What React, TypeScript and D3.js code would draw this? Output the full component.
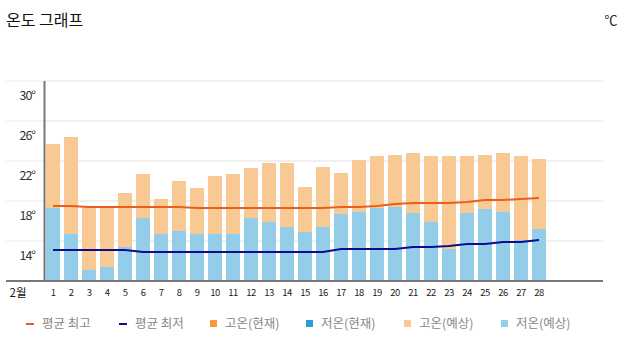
import React from "react";
import * as d3 from "d3";

const days = d3.range(1, 29).map(String);
const highs = [25.2, 25.9, 18.9, 18.9, 20.3, 22.2, 19.7, 21.5, 20.8, 22.0, 22.2, 22.8, 23.3, 23.3, 20.9, 22.9, 22.3, 23.6, 24.0, 24.1, 24.3, 24.0, 24.0, 24.0, 24.1, 24.3, 24.0, 23.7];
const lows = [18.8, 16.2, 12.6, 12.9, 14.9, 17.8, 16.2, 16.5, 16.2, 16.2, 16.2, 17.8, 17.4, 16.9, 16.4, 16.9, 18.2, 18.4, 18.8, 18.9, 18.3, 17.4, 14.7, 18.3, 18.7, 18.4, 15.6, 16.7];
const avgHigh = [19.0, 19.0, 18.9, 18.9, 18.9, 18.9, 18.9, 18.9, 18.8, 18.8, 18.8, 18.8, 18.8, 18.8, 18.8, 18.8, 18.9, 18.9, 19.0, 19.2, 19.3, 19.3, 19.3, 19.4, 19.6, 19.6, 19.7, 19.8];
const avgLow = [14.6, 14.6, 14.6, 14.6, 14.6, 14.4, 14.4, 14.4, 14.4, 14.4, 14.4, 14.4, 14.4, 14.4, 14.4, 14.4, 14.7, 14.7, 14.7, 14.7, 14.9, 14.9, 15.0, 15.2, 15.2, 15.4, 15.4, 15.6];
const yTicks = [30, 26, 22, 18, 14];
const legendItems = [
  { label: "평균 최고", color: "#e8601c", kind: "line" },
  { label: "평균 최저", color: "#0c0c8c", kind: "line" },
  { label: "고온(현재)", color: "#f79a3e", kind: "rect" },
  { label: "저온(현재)", color: "#2a9fd6", kind: "rect" },
  { label: "고온(예상)", color: "#f9c994", kind: "rect" },
  { label: "저온(예상)", color: "#93cdea", kind: "rect" },
];

const W = 625, H = 351;
const plotLeft = 44, plotRight = 603, axisY = 281;

export default function App() {
  const x = d3.scaleBand<string>().domain(days).range([44, 44 + 28 * 18]).paddingInner(0.22).paddingOuter(0.11);
  const y = d3.scaleLinear().domain([11.5, 31.5]).range([axisY, 81]);
  const cx = (i: number) => (x(days[i]) as number) + x.bandwidth() / 2;
  const line = d3.line<number>().x((_, i) => cx(i)).y((d) => y(d));
  const legendX = [26, 119, 209, 305, 403, 500];
  const font = "'Noto Sans CJK KR', 'Noto Sans', sans-serif";
  return (
    <svg width={W} height={H} style={{ position: "absolute", left: 0, top: 0, background: "#fff" }} fontFamily={font}>
      <text x={6} y={26} fontSize={16} fill="#111">온도 그래프</text>
      <text x={611} y={25} fontSize={13} fill="#222" textAnchor="middle">℃</text>
      {yTicks.map((t) => (
        <g key={t}>
          <line x1={plotLeft} x2={plotRight} y1={y(t + 1.5)} y2={y(t + 1.5)} stroke="#ebebeb" strokeWidth={1.5} />
          <line x1={6} x2={plotLeft} y1={y(t + 1.5)} y2={y(t + 1.5)} stroke="#f2f2f2" strokeWidth={1.5} />
          <text x={35} y={y(t)} dy="0.35em" fontSize={12.5} fill="#333" textAnchor="end" letterSpacing={-1}>{t}°</text>
        </g>
      ))}
      {days.map((d, i) => (
        <g key={d}>
          <rect x={x(d)} y={y(highs[i])} width={x.bandwidth()} height={axisY - y(highs[i])} fill="#f9c994" />
          <rect x={x(d)} y={y(lows[i])} width={x.bandwidth()} height={axisY - y(lows[i])} fill="#93cdea" />
          <text x={cx(i)} y={296} fontSize={9.5} fill="#222" textAnchor="middle" letterSpacing={-0.6}>{d}</text>
        </g>
      ))}
      <path d={line(avgHigh) || ""} fill="none" stroke="#e8601c" strokeWidth={2} />
      <path d={line(avgLow) || ""} fill="none" stroke="#0c0c8c" strokeWidth={2} />
      <line x1={44.5} x2={44.5} y1={81} y2={axisY} stroke="#777" strokeWidth={2} />
      <line x1={6} x2={plotRight} y1={axisY} y2={axisY} stroke="#777" strokeWidth={2} />
      <text x={18} y={297} fontSize={11.5} fill="#111" textAnchor="middle">2월</text>
      {legendItems.map((it, i) => (
        <g key={it.label}>
          {it.kind === "line" ? (
            <line x1={legendX[i]} x2={legendX[i] + 8} y1={324} y2={324} stroke={it.color} strokeWidth={2} />
          ) : (
            <rect x={legendX[i] + 1} y={320} width={7} height={7} fill={it.color} />
          )}
          <text x={legendX[i] + 16} y={324} dy="0.35em" fontSize={12.5} fill="#888">{it.label}</text>
        </g>
      ))}
    </svg>
  );
}
